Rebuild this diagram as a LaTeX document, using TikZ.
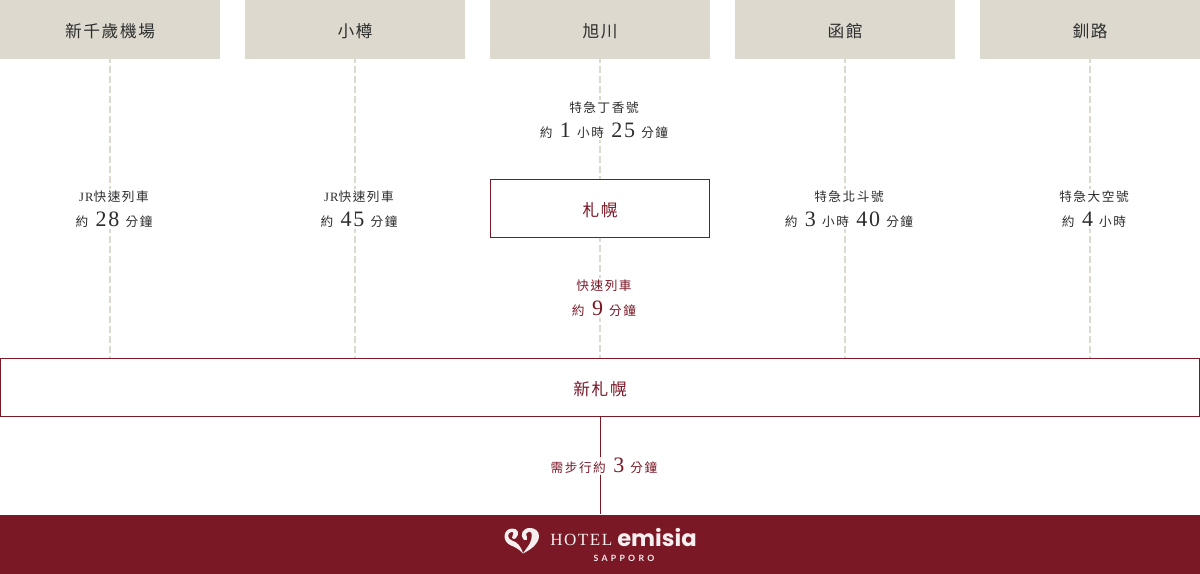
\documentclass[tikz,border=0pt]{standalone}
\usepackage{fontspec}
\usepackage{tikz}
\setmainfont{Liberation Serif}
\newfontfamily\cjk[LetterSpace=12]{Noto Sans CJK TC}
\newfontfamily\cjkwide[LetterSpace=10]{Noto Sans CJK TC}
\newfontfamily\numfont[LetterSpace=8]{Liberation Serif}
\newfontfamily\logofont[LetterSpace=9]{Liberation Serif}
\newfontfamily\logobold{Poppins}
\newfontfamily\logosub[LetterSpace=38]{Lato}
\definecolor{sand}{RGB}{221, 217, 207}
\definecolor{wine}{RGB}{122, 24, 38}
\definecolor{ink}{RGB}{45, 45, 45}
\newcommand{\num}[1]{{\numfont\fontsize{16.5}{18}\selectfont\hspace{5.6pt}#1\hspace{4.6pt}}}

\begin{document}
\begin{tikzpicture}[x=0.75pt, y=-0.75pt,
    city/.style={fill=sand, text=ink, minimum width=165pt, minimum height=44.25pt,
      inner sep=0, outer sep=0, text height=13.2pt, text depth=1.5pt,
      font=\cjkwide\fontsize{12.5}{14}\selectfont},
    stop/.style={draw=wine, line width=0.75pt, fill=white, text=wine, minimum width=164.25pt,
      minimum height=43.5pt, inner sep=0, outer sep=0.375pt, text height=13.2pt, text depth=1.5pt,
      font=\cjkwide\fontsize{12.5}{14}\selectfont},
    trip/.style={fill=white, fill opacity=0.85, text opacity=1, text=ink, align=center,
      inner sep=1pt, font=\cjk\fontsize{9.5}{19}\selectfont},
    dashline/.style={draw=sand, line width=1.5pt, dash pattern=on 5.25pt off 2.25pt, dash phase=2.25pt},
    walkline/.style={draw=wine, line width=0.75pt, shorten >=0.75pt},
    logotext/.style={text=white!93!wine, inner sep=0}]
  \useasboundingbox (0, 0) rectangle (1200, 574);

  % top row
  \node[city] (chitose) at (110, 29.5) {新千歲機場};
  \node[city] (otaru) at (355, 29.5) {小樽};
  \node[city] (asahikawa) at (600, 29.5) {旭川};
  \node[city] (hakodate) at (845, 29.5) {函館};
  \node[city] (kushiro) at (1090, 29.5) {釧路};

  % stations
  \node[stop] (sapporo) at (600, 208.5) {札幌};
  \node[stop, minimum width=899.25pt] (shin) at (600, 387.5) {新札幌};
  \node[fill=wine, minimum width=900pt, minimum height=44.25pt, inner sep=0, outer sep=0] (hotel) at (600, 544.5) {};

  % dashed lines
  \draw[dashline] (chitose.south) -- (chitose.south |- shin.north);
  \draw[dashline] (otaru.south) -- (otaru.south |- shin.north);
  \draw[dashline] (asahikawa.south) -- (sapporo.north);
  \draw[dashline] (sapporo.south) -- (shin.north);
  \draw[dashline] (hakodate.south) -- (hakodate.south |- shin.north);
  \draw[dashline] (kushiro.south) -- (kushiro.south |- shin.north);
  \draw[walkline] (shin.south) -- (hotel.north);

  % labels
  \node[trip] (lchitose) at (114, 209) {{\numfont JR}快速列車\\約\num{28}分鐘};
  \node[trip] (lotaru) at (359, 209) {{\numfont JR}快速列車\\約\num{45}分鐘};
  \node[trip] (lasahikawa) at (604, 120) {特急丁香號\\約\num{1}小時\num{25}分鐘};
  \node[trip] (lhakodate) at (849, 209) {特急北斗號\\約\num{3}小時\num{40}分鐘};
  \node[trip] (lkushiro) at (1094, 209) {特急大空號\\約\num{4}小時};
  \node[trip, text=wine] (lsapporo) at (604, 298) {快速列車\\約\num{9}分鐘};
  \node[trip, text=wine] (lwalk) at (604, 466) {需步行約\num{3}分鐘};

  % logo
  \fill[white!93!wine] (512, 528.5) .. controls (503, 529) and (502, 541) .. (510, 545)
    .. controls (515, 547) and (519, 549) .. (523, 553.5)
    .. controls (521, 546) and (517, 542) .. (512, 540.5)
    .. controls (507, 539) and (507, 533) .. (511, 532)
    .. controls (514, 531.5) and (514, 534) .. (512.5, 536)
    .. controls (511, 538.5) and (514, 540) .. (516, 538)
    .. controls (520, 534) and (518, 528) .. (512, 528.5) -- cycle;
  \fill[white!93!wine] (530, 528) .. controls (523, 528) and (519, 534) .. (524, 540)
    .. controls (526, 541.5) and (528.5, 539) .. (527, 537)
    .. controls (525, 534) and (527, 531.5) .. (529.5, 531.5)
    .. controls (533, 531.5) and (532, 539) .. (530, 543)
    .. controls (528, 547) and (525, 550) .. (523, 553.5)
    .. controls (530, 550) and (539, 544) .. (539, 536)
    .. controls (539, 531) and (535, 528) .. (530, 528) -- cycle;
  \node[logotext, font=\logofont\fontsize{12.8}{14}\selectfont, anchor=west] (hoteltext) at (550, 540) {HOTEL};
  \node[logotext, font=\logobold\bfseries\fontsize{17}{19}\selectfont, anchor=west] (emisia) at (617, 538) {emisia};
  \node[logotext, font=\logosub\bfseries\fontsize{6.5}{7}\selectfont] (sapporotext) at (624, 558) {SAPPORO};
\end{tikzpicture}
\end{document}
